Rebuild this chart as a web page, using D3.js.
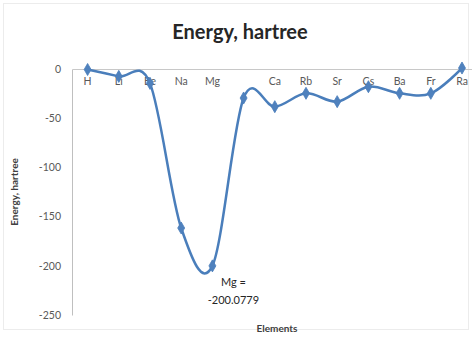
<!DOCTYPE html>
<html>
<head>
<meta charset="utf-8">
<script src="https://cdn.jsdelivr.net/npm/d3@7"></script>
<style>
  html, body { margin: 0; padding: 0; background: #fff; }
  svg { display: block; }
</style>
</head>
<body>
<svg id="chart" width="472" height="340"></svg>
<script>
// Element categories along the x axis
const elements = ["H", "Li", "Be", "Na", "Mg", "K", "Ca", "Rb", "Sr", "Cs", "Ba", "Fr", "Ra"];
// Category labels printed under the zero line (K's label is left blank)
const elementLabels = ["H", "Li", "Be", "Na", "Mg", "", "Ca", "Rb", "Sr", "Cs", "Ba", "Fr", "Ra"];
// Energy per element, hartree
const energies = [-0.5, -7.5, -14.6, -161.6, -200.0779, -29.5, -38.3, -24.7, -33.2, -18.0, -24.7, -24.7, 1.0];
// Y axis ticks
const yTicks = [0, -50, -100, -150, -200, -250];

const svg = d3.select("#chart");
const W = 472, H = 340;
const font = "Lato, 'Open Sans', sans-serif";

// faint chart-area frame
svg.append("rect")
  .attr("x", 3.5).attr("y", 3.5).attr("width", W - 7).attr("height", 326)
  .attr("fill", "#fff").attr("stroke", "#ececec");

const plot = { left: 72, top: 69, bottom: 315 };

const x = d3.scaleBand().domain(elements).range([plot.left, 477.6]);
const cx = d => x(d) + x.bandwidth() / 2;
const y = d3.scaleLinear().domain([-250, 0]).range([plot.bottom, plot.top]);

// y axis (plain hyphen for negatives)
const yAxis = svg.append("g")
  .attr("transform", `translate(${plot.left},0)`)
  .call(d3.axisLeft(y).tickValues(yTicks).tickSize(0).tickPadding(11).tickFormat(d => String(d)));
yAxis.select(".domain").attr("stroke", "#bfbfbf").attr("stroke-width", 1);
yAxis.selectAll("text")
  .attr("font-family", font).attr("font-size", 10.5).attr("fill", "#595959");

// horizontal axis at zero with category labels just under it
const xAxis = svg.append("g")
  .attr("transform", `translate(0,${y(0)})`)
  .call(d3.axisBottom(x).tickSize(0).tickPadding(9)
    .tickFormat(d => elementLabels[elements.indexOf(d)]));
xAxis.select(".domain").attr("stroke", "#c8c8c8").attr("stroke-width", 1);
xAxis.selectAll("text")
  .attr("font-family", font).attr("font-size", 10.5).attr("fill", "#595959");

// smoothed series line
const line = d3.line()
  .x((d, i) => cx(elements[i]))
  .y(d => y(d))
  .curve(d3.curveCardinal.tension(0));

svg.append("path")
  .datum(energies)
  .attr("d", line)
  .attr("fill", "none")
  .attr("stroke", "#4a7ebb")
  .attr("stroke-width", 2.5);

// diamond markers
svg.append("g").selectAll("path")
  .data(energies)
  .join("path")
  .attr("transform", (d, i) => `translate(${cx(elements[i])},${y(d)})`)
  .attr("d", d3.symbol(d3.symbolDiamond, 42))
  .attr("fill", "#4f81bd")
  .attr("stroke", "#4a7ebb")
  .attr("stroke-width", 0.8);

// data label for Mg
const mgIdx = elements.indexOf("Mg");
const mgLabel = svg.append("text")
  .attr("x", cx("Mg") + 21)
  .attr("y", y(energies[mgIdx]) + 20)
  .attr("text-anchor", "middle")
  .attr("font-family", font).attr("font-size", 11).attr("fill", "#262626");
mgLabel.append("tspan").text("Mg =");
mgLabel.append("tspan").attr("x", cx("Mg") + 21).attr("dy", 18).text(energies[mgIdx].toFixed(4));

// title
svg.append("text")
  .attr("x", 240).attr("y", 39)
  .attr("text-anchor", "middle")
  .attr("font-family", font).attr("font-weight", "bold").attr("font-size", 20)
  .attr("fill", "#262626")
  .text("Energy, hartree");

// axis titles
svg.append("text")
  .attr("x", 277).attr("y", 332)
  .attr("text-anchor", "middle")
  .attr("font-family", font).attr("font-weight", "bold").attr("font-size", 10)
  .attr("fill", "#404040")
  .text("Elements");

svg.append("text")
  .attr("transform", "translate(18,192) rotate(-90)")
  .attr("text-anchor", "middle")
  .attr("font-family", font).attr("font-weight", "bold").attr("font-size", 10)
  .attr("fill", "#404040")
  .text("Energy, hartree");
</script>
</body>
</html>
